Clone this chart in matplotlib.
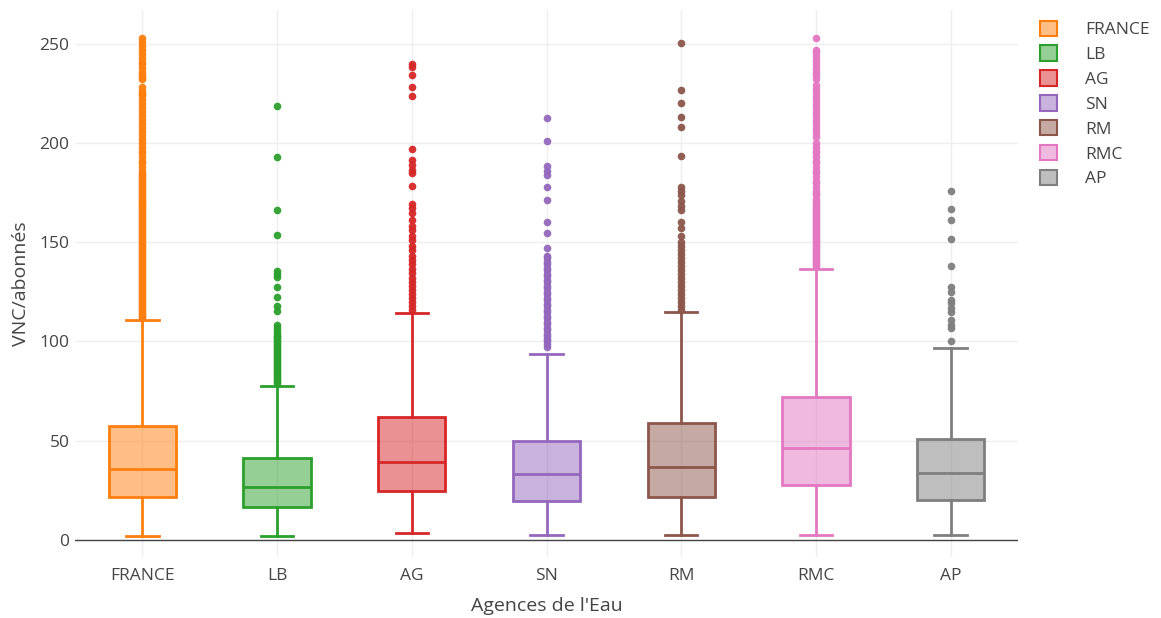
import matplotlib
matplotlib.use("Agg")
import matplotlib.pyplot as plt
from matplotlib.patches import Patch
from matplotlib.colors import to_rgba

# Agences de l'Eau (x categories)
categories = ['FRANCE', 'LB', 'AG', 'SN', 'RM', 'RMC', 'AP']
colors = ['#ff7f0e', '#2ca02c', '#d62728', '#9467bd', '#8c564b', '#e377c2', '#7f7f7f']

# box statistics (VNC/abonnés)
whislo = [2.2, 2.2, 3.4, 2.5, 2.4, 2.4, 2.4]
q1 = [21.5, 16.8, 24.9, 19.7, 21.5, 27.9, 20.2]
med = [35.6, 26.9, 39.5, 33.1, 36.6, 46.5, 33.6]
q3 = [57.6, 41.2, 62.0, 49.7, 59.1, 71.9, 50.8]
whishi = [110.9, 77.5, 114.4, 93.8, 114.9, 136.4, 96.6]

# outliers (estimated)
fl_france = [112, 113, 114, 115, 116, 117, 118, 119, 120, 121, 122, 123, 124, 125, 126,
             127, 128, 129, 130, 131, 132, 133, 134, 135, 136, 137, 138, 139, 140, 141,
             142, 143, 144, 145, 146, 147, 148, 149, 150, 151, 152, 153, 154, 155, 156,
             157, 158, 159, 160, 161, 162, 163, 164, 165, 166, 167, 168, 169, 170, 171,
             172, 173, 174, 175, 176, 177, 178, 179, 180, 181, 182, 183, 184, 185, 186,
             188, 190, 191, 193, 195, 196, 198, 200, 202, 204, 206, 208, 210, 212, 214,
             216, 218, 220, 222, 224, 225, 226, 228, 232, 233, 234, 236, 238, 240, 241,
             243, 245, 247, 249, 251, 253]
fl_lb = [218.5, 192.7, 166, 153.6, 135.5, 134, 132.5, 127.5, 122.3, 118, 115.5, 108.5,
         107, 105.5, 104, 103, 102, 101, 100, 99, 98, 97, 96, 95, 94, 93, 92, 91, 90,
         89, 88, 87, 86, 85, 84, 83, 82, 81, 80, 79]
fl_ag = [240, 238.5, 234, 228, 223.5, 197, 191.5, 189, 186.5, 184.8, 178.4, 169.4, 167,
         164.7, 161.3, 158, 156, 153, 151, 148, 146, 143, 141, 139, 136.5, 134.5, 132,
         130, 128, 126, 124, 122, 120, 118, 116]
fl_sn = [212.4, 201, 188.5, 186, 184, 178, 171.4, 160.3, 154.6, 147, 143, 142, 140, 139,
         137, 136, 134, 133, 131, 130, 128, 127, 125, 124, 122, 121, 119, 118, 116, 115,
         113, 112, 110, 109, 107, 106, 104, 103, 101, 100, 98.5, 97]
fl_rm = [250.3, 226.7, 220, 213, 207.8, 193.5, 178, 176, 174, 171, 168, 166, 160, 157,
         153, 150, 148, 146, 144, 142, 140, 138, 136, 134, 132, 130, 128, 126, 124, 122,
         120, 118, 116]
fl_rmc = [138, 139, 140, 141, 142, 143, 144, 145, 146, 147, 148, 149, 150, 151, 152, 153,
          154, 155, 156, 157, 158, 159, 160, 161, 162, 163, 164, 165, 166, 167, 168, 170,
          171, 172, 174, 175, 176, 178, 180, 181, 183, 185, 186, 188, 190, 191, 193, 195,
          196, 198, 200, 203, 205, 207, 209, 211, 213, 215, 217, 219, 221, 223, 225, 227,
          229, 232, 234, 236, 238, 240, 242, 244, 246, 247, 253]
fl_ap = [176, 166.7, 161, 151.7, 137.8, 127.4, 125, 121, 119.3, 117, 115, 110.9, 108.4,
         106.7, 100.3]
fliers = [fl_france, fl_lb, fl_ag, fl_sn, fl_rm, fl_rmc, fl_ap]

font = ['Open Sans', 'DejaVu Sans']
text_col = '#444444'

fig = plt.figure(figsize=(11.61, 6.18), dpi=100)
ax = fig.add_axes([75 / 1161, 1 - 557 / 618, (1018 - 75) / 1161, (557 - 10) / 618])

positions = list(range(len(categories)))
for i, cat in enumerate(categories):
    stats = [dict(label=cat, whislo=whislo[i], q1=q1[i], med=med[i], q3=q3[i],
                  whishi=whishi[i], fliers=fliers[i])]
    c = colors[i]
    ax.bxp(stats, positions=[i], widths=0.5, patch_artist=True, capwidths=0.24,
           boxprops=dict(facecolor=to_rgba(c, 0.5), edgecolor=c, linewidth=2),
           medianprops=dict(color=c, linewidth=2),
           whiskerprops=dict(color=c, linewidth=2),
           capprops=dict(color=c, linewidth=2),
           flierprops=dict(marker='o', markerfacecolor=c, markeredgecolor='none',
                           markersize=5.5, alpha=0.95),
           zorder=3)

ax.set_xlim(-0.5, len(categories) - 0.5)
ax.set_ylim(-8.6, 267)
ax.set_xticks(positions)
ax.set_xticklabels(categories)
ax.set_yticks([0, 50, 100, 150, 200, 250])

for s in ax.spines.values():
    s.set_visible(False)
ax.grid(True, color='#eeeeee', linewidth=1)
ax.set_axisbelow(True)
ax.axhline(0, color=text_col, linewidth=1, zorder=2)
ax.tick_params(length=0, labelsize=12.5, labelcolor=text_col)
ax.tick_params(axis='y', pad=4)
ax.tick_params(axis='x', pad=8)
for lab in ax.get_xticklabels() + ax.get_yticklabels():
    lab.set_family(font)

ax.set_xlabel("Agences de l'Eau", fontsize=14, color=text_col, family=font, labelpad=9)
ax.set_ylabel('VNC/abonnés', fontsize=14, color=text_col, family=font, labelpad=7)

handles = [Patch(facecolor=to_rgba(c, 0.5), edgecolor=c, linewidth=1.5) for c in colors]
leg = fig.legend(handles, categories, loc='upper left', bbox_to_anchor=(1024 / 1161, 1 - 5 / 618),
                 frameon=False, prop={'family': font, 'size': 12.5}, handlelength=1.0,
                 handleheight=1.0, labelspacing=0.41, handletextpad=1.6)
for t in leg.get_texts():
    t.set_color(text_col)

fig.savefig('out.png', dpi=100)
